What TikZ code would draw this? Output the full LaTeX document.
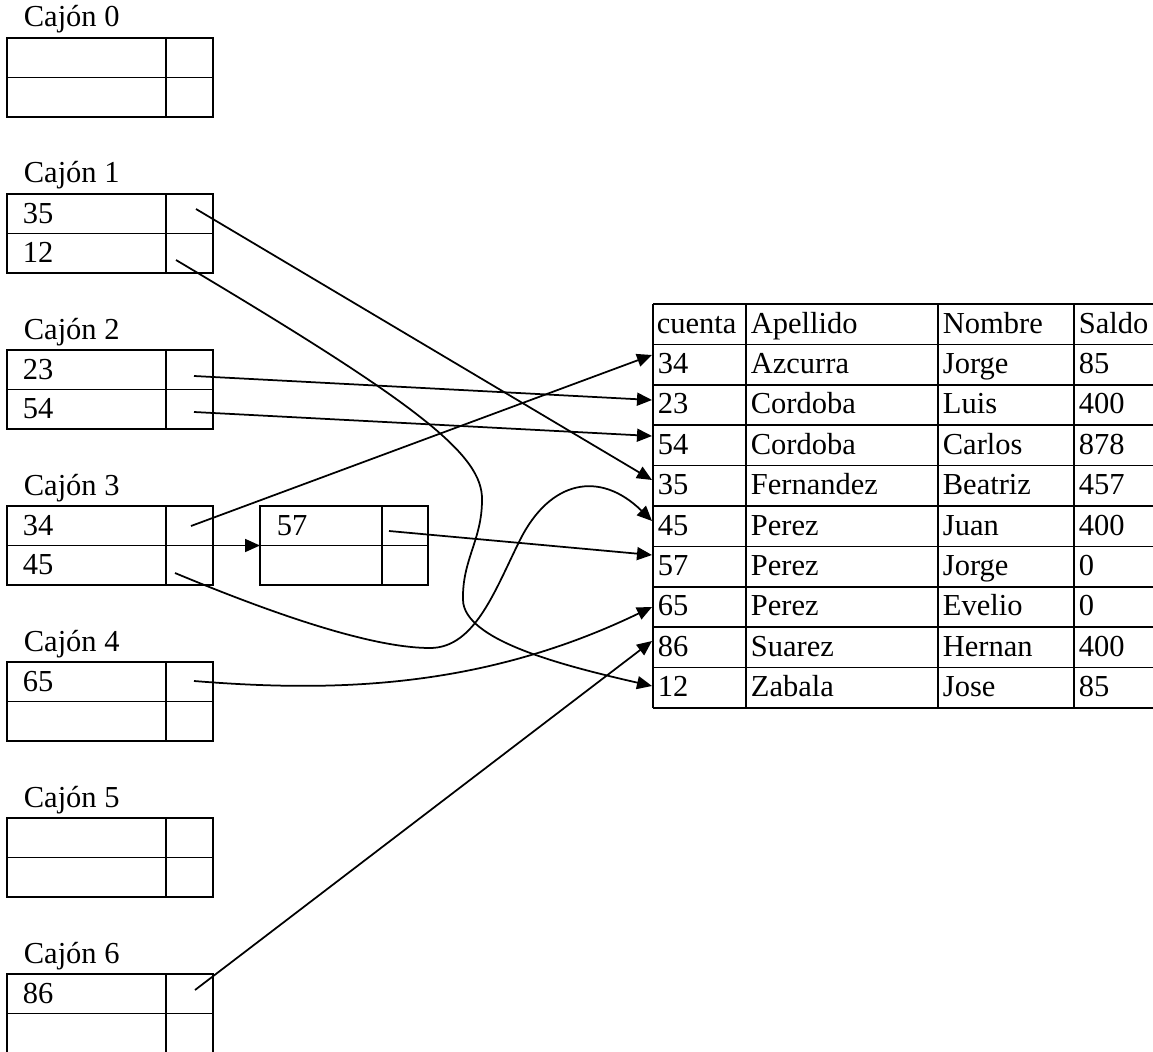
\documentclass[tikz,border=0pt]{standalone}
\usepackage{fontspec}
\setmainfont{Liberation Serif}
\usetikzlibrary{arrows.meta}
\tikzset{
  txt/.style={anchor=base west, inner sep=0pt},
  ptr/.style={-{Triangle[length=6pt,width=5.2pt]}},
}
\begin{document}
\begin{tikzpicture}[x=0.4pt, y=-0.4pt, line width=0.7pt, font=\fontsize{12.2pt}{14pt}\selectfont]
  \useasboundingbox (0,0) rectangle (1153,1052);
  % cajones
  \foreach \i in {0,...,6}{
    \pgfmathsetmacro{\ytop}{38+156*\i}
    \draw (7,\ytop) rectangle (213,\ytop+79);
    \draw (7,\ytop+39.5) -- (213,\ytop+39.5);
    \draw (166,\ytop) -- (166,\ytop+79);
    \node[txt] (caj\i) at (23,\ytop-11) {Cajón \i};
  }
  \node[txt] (k35) at (22,223) {35};
  \node[txt] (k12) at (22,262.5) {12};
  \node[txt] (k23) at (22,379) {23};
  \node[txt] (k54) at (22,418.5) {54};
  \node[txt] (k34) at (22,535) {34};
  \node[txt] (k45) at (22,574.5) {45};
  \node[txt] (k65) at (22,691) {65};
  \node[txt] (k86) at (22,1003) {86};
  % desborde del cajon 3
  \draw (260,506) rectangle (428,585);
  \draw (260,545.5) -- (428,545.5);
  \draw (382,506) -- (382,585);
  \node[txt] (k57) at (276,535) {57};
  % tabla
  \foreach \k in {0,...,10}
    \draw (653,304+40.4*\k) -- (1153,304+40.4*\k);
  \foreach \x in {653,746,938,1074}
    \draw (\x,304) -- (\x,708);
  \node[txt] (hc) at (656,333) {cuenta};
  \node[txt] (ha) at (750,333) {Apellido};
  \node[txt] (hn) at (942,333) {Nombre};
  \node[txt] (hs) at (1078,333) {Saldo};
  \foreach \c/\a/\n/\s [count=\k] in {34/Azcurra/Jorge/85, 23/Cordoba/Luis/400,
      54/Cordoba/Carlos/878, 35/Fernandez/Beatriz/457, 45/Perez/Juan/400,
      57/Perez/Jorge/0, 65/Perez/Evelio/0, 86/Suarez/Hernan/400, 12/Zabala/Jose/85}{
    \node[txt] (c\c) at (657,333+40.4*\k) {\c};
    \node[txt] (a\c) at (750,333+40.4*\k) {\a};
    \node[txt] (n\c) at (942,333+40.4*\k) {\n};
    \node[txt] (s\c) at (1078,333+40.4*\k) {\s};
  }
  % punteros
  \coordinate (p35) at (196,209);
  \coordinate (p12) at (176,260);
  \coordinate (p23) at (194,376);
  \coordinate (p54) at (194,412);
  \coordinate (p34) at (191,526);
  \coordinate (p45) at (175,573);
  \coordinate (p57) at (389,531);
  \coordinate (p65) at (194,681);
  \coordinate (p86) at (195,990);
  \coordinate (sig3) at (213,545.5);
  \coordinate (des3) at (260,545.5);
  \coordinate (r34) at (652,355);
  \coordinate (r23) at (652,400);
  \coordinate (r54) at (652,436);
  \coordinate (r35) at (652,480);
  \coordinate (r45) at (652,521);
  \coordinate (r57) at (652,555);
  \coordinate (r65) at (652,607);
  \coordinate (r86) at (652,641);
  \coordinate (r12) at (652,686);
  \draw[ptr] (p35) -- (r35);
  \draw[ptr] (p12) .. controls (420,405) and (483,455) .. (482,500)
    .. controls (482,540) and (462,560) .. (463,600)
    .. controls (464,640) and (560,665) .. (r12);
  \draw[ptr] (p23) -- (r23);
  \draw[ptr] (p54) -- (r54);
  \draw[ptr] (p34) -- (r34);
  \draw[ptr] (sig3) -- (des3);
  \draw[ptr] (p45) .. controls (295,623) and (380,648) .. (430,648)
    .. controls (475,648) and (495,590) .. (520,540)
    .. controls (550,480) and (600,470) .. (r45);
  \draw[ptr] (p57) -- (r57);
  \draw[ptr] (p65) .. controls (330,692) and (480,690) .. (r65);
  \draw[ptr] (p86) -- (r86);
\end{tikzpicture}
\end{document}
